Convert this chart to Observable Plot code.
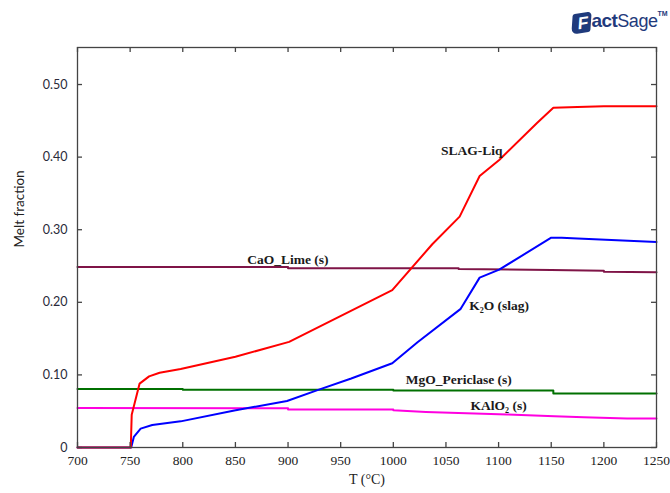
<!DOCTYPE html>
<html>
<head>
<meta charset="utf-8">
<script src="https://cdn.jsdelivr.net/npm/d3@7"></script>
<script src="https://cdn.jsdelivr.net/npm/@observablehq/plot@0.6"></script>
<style>
  html, body { margin: 0; padding: 0; background: #fff; }
  #wrap { position: relative; width: 670px; height: 493px; }
  #logo { position: absolute; left: 572px; top: 10px; color: #1f3a7c; white-space: nowrap; font-family: "Liberation Sans", sans-serif; line-height: 1; }
  #logo .icon { display: inline-block; background: #1f3a7c; color: #fff; font-weight: bold; font-size: 17px; padding: 2px 3px 1px 6px; transform: skewY(-12deg) rotate(4deg); border-radius: 2px 4px 2px 6px; vertical-align: -2px; }
  #logo .act { font-weight: bold; font-size: 19px; letter-spacing: -0.5px; }
  #logo .sage { font-family: "Liberation Sans Narrow", "Liberation Sans", sans-serif; font-size: 18px; letter-spacing: -0.5px; }
  #logo sup { font-size: 7px; font-weight: bold; vertical-align: 11px; }
  g[aria-label="x-axis tick label"] text { font-family: "Liberation Serif", serif; }
</style>
</head>
<body>
<div id="wrap"><div id="logo"><span class="icon">F</span><span class="act">act</span><span class="sage">Sage</span><sup>TM</sup></div></div>
<script>
// ---- data ----
const slagT = [700, 750.6, 751.5, 759, 768, 778, 798, 850, 901, 999, 1037, 1063, 1082, 1100.6, 1136.5, 1152, 1175, 1200, 1250];
const slagV = [0, 0, 0.045, 0.088, 0.098, 0.103, 0.108, 0.125, 0.1455, 0.2167, 0.280, 0.318, 0.374, 0.396, 0.447, 0.468, 0.469, 0.470, 0.470];

const k2oT = [700, 751, 753.5, 760, 771, 798, 849, 899, 928, 960, 999, 1023, 1064, 1082, 1100.6, 1150, 1160, 1175, 1250];
const k2oV = [0, 0, 0.0146, 0.026, 0.031, 0.036, 0.051, 0.064, 0.079, 0.095, 0.116, 0.145, 0.191, 0.234, 0.245, 0.289, 0.289, 0.288, 0.283];

const caoT = [700, 900, 900, 1062, 1062, 1150, 1200, 1200, 1250];
const caoV = [0.2485, 0.2485, 0.247, 0.247, 0.246, 0.2445, 0.2435, 0.242, 0.2415];

const mgoT = [700, 800, 800, 1000, 1000, 1152, 1152, 1250];
const mgoV = [0.0805, 0.0805, 0.0795, 0.0795, 0.0785, 0.0785, 0.0745, 0.0745];

const kalT = [700, 900, 900, 1000, 1000, 1031, 1108, 1153, 1181, 1222, 1250];
const kalV = [0.0545, 0.0540, 0.0525, 0.0525, 0.0514, 0.049, 0.0455, 0.043, 0.0417, 0.040, 0.040];

const seriesNames = ["SLAG-Liq", "K\u2082O (slag)", "CaO_Lime (s)", "MgO_Periclase (s)", "KAlO\u2082 (s)"];
const seriesColors = ["#ff0000", "#0000ff", "#7f1447", "#007000", "#ff00e0"];
// label anchor points (data coordinates) for each series name
const labelT = [1074.6, 1100.5, 899.8, 1062.2, 1100];
const labelV = [0.4095, 0.196, 0.2587, 0.094, 0.0583];

const xTicks = [700, 750, 800, 850, 900, 950, 1000, 1050, 1100, 1150, 1200, 1250];
const yTicks = [0, 0.1, 0.2, 0.3, 0.4, 0.5];

// ---- build ----
const toRows = (T, V) => T.map((t, i) => ({T: t, v: V[i]}));
const seriesData = [toRows(slagT, slagV), toRows(k2oT, k2oV), toRows(caoT, caoV), toRows(mgoT, mgoV), toRows(kalT, kalV)];
const labels = seriesNames.map((name, i) => ({name, T: labelT[i], v: labelV[i]}));

const W = 670, H = 493, mL = 77, mR = 14, mT = 47, mB = 46;
const innerW = W - mL - mR, innerH = H - mT - mB, tick = 5;

const drawOrder = [2, 3, 4, 1, 0];
const chart = Plot.plot({
  width: W, height: H,
  marginLeft: mL, marginRight: mR, marginTop: mT, marginBottom: mB,
  style: {background: "white", overflow: "visible", fontFamily: "'Liberation Serif', serif"},
  x: {domain: [700, 1250]},
  y: {domain: [0, 0.551]},
  marks: [
    ...drawOrder.map(i => Plot.line(seriesData[i], {x: "T", y: "v", stroke: seriesColors[i], strokeWidth: 2})),
    Plot.frame({stroke: "#444", strokeWidth: 1.3}),
    Plot.tickY(yTicks, {y: d => d, insetRight: innerW - tick, stroke: "#444", strokeWidth: 1.3}),
    Plot.tickY(yTicks, {y: d => d, insetLeft: innerW - tick, stroke: "#444", strokeWidth: 1.3}),
    Plot.tickX(xTicks, {x: d => d, insetTop: innerH - tick, stroke: "#444", strokeWidth: 1.3}),
    Plot.tickX(xTicks, {x: d => d, insetBottom: innerH - tick, stroke: "#444", strokeWidth: 1.3}),
    Plot.axisY(yTicks, {anchor: "left", tickSize: 0, tickPadding: 10, label: null,
      tickFormat: d => d === 0 ? "0" : d.toFixed(2), fontFamily: "Lato", fontSize: 12.5, fill: "#2a2a3a"}),
    Plot.axisX(xTicks, {anchor: "bottom", tickSize: 0, tickPadding: 8, label: null,
      tickFormat: d => String(d), fontFamily: "Liberation Serif", fontSize: 13.5, fill: "#222"}),
    Plot.text(["Melt fraction"], {frameAnchor: "left", dx: -58, rotate: -90, fontFamily: "Lato", fontSize: 13.5, fill: "#222"}),
    Plot.text(["T (\u00B0C)"], {frameAnchor: "bottom", dy: 36, fontFamily: "Liberation Serif", fontSize: 14, fill: "#222"}),
    Plot.text(labels, {x: "T", y: "v", text: "name", fontFamily: "Liberation Serif", fontWeight: "bold", fontSize: 13.5, fill: "#1a1a1a"})
  ]
});
document.getElementById("wrap").prepend(chart);
</script>
</body>
</html>
